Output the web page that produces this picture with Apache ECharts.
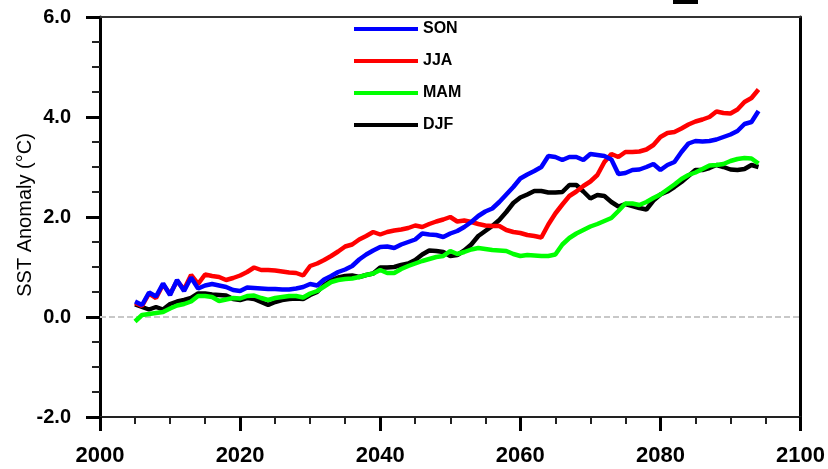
<!DOCTYPE html>
<html>
<head>
<meta charset="utf-8">
<script src="https://cdn.jsdelivr.net/npm/echarts@6/dist/echarts.min.js"></script>
<style>
html,body{margin:0;padding:0;background:#fff;}
#chart{width:828px;height:469px;}
</style>
</head>
<body>
<div id="chart"></div>
<script>
const years = [];
for (let y = 2005; y <= 2094; y++) years.push(y);

const SON = [0.31,0.24,0.49,0.41,0.67,0.44,0.74,0.52,0.79,0.57,
0.63,0.66,0.63,0.60,0.54,0.52,0.59,0.58,0.57,0.56,
0.56,0.55,0.55,0.57,0.60,0.66,0.63,0.75,0.82,0.90,
0.95,1.02,1.15,1.25,1.33,1.40,1.41,1.38,1.45,1.50,
1.55,1.67,1.65,1.64,1.60,1.67,1.72,1.80,1.90,2.02,
2.11,2.17,2.30,2.45,2.60,2.77,2.85,2.92,3.00,3.22,
3.20,3.14,3.20,3.20,3.14,3.26,3.24,3.22,3.15,2.86,
2.88,2.94,2.95,3.00,3.06,2.94,3.04,3.10,3.30,3.47,
3.52,3.51,3.52,3.55,3.60,3.65,3.72,3.86,3.90,4.12];

const JJA = [0.28,0.22,0.47,0.38,0.65,0.46,0.72,0.55,0.84,0.66,
0.85,0.82,0.80,0.74,0.78,0.83,0.90,0.99,0.94,0.94,
0.93,0.91,0.89,0.88,0.83,1.02,1.07,1.14,1.22,1.31,
1.41,1.45,1.55,1.62,1.70,1.65,1.70,1.73,1.75,1.78,
1.83,1.80,1.86,1.91,1.95,2.00,1.91,1.93,1.90,1.86,
1.83,1.82,1.82,1.74,1.70,1.68,1.64,1.62,1.59,1.85,
2.07,2.25,2.42,2.51,2.62,2.71,2.84,3.10,3.26,3.20,
3.30,3.30,3.31,3.35,3.44,3.60,3.68,3.70,3.77,3.85,
3.91,3.95,4.00,4.11,4.08,4.07,4.15,4.30,4.38,4.55];

const MAM = [-0.09,0.04,0.06,0.08,0.10,0.17,0.23,0.26,0.31,0.42,
0.42,0.40,0.32,0.35,0.38,0.37,0.42,0.43,0.38,0.34,
0.38,0.40,0.42,0.42,0.39,0.47,0.52,0.61,0.70,0.74,
0.76,0.77,0.80,0.84,0.87,0.94,0.88,0.88,0.96,1.02,
1.07,1.12,1.16,1.20,1.22,1.32,1.26,1.30,1.35,1.38,
1.36,1.34,1.33,1.32,1.26,1.22,1.24,1.23,1.22,1.22,
1.25,1.45,1.58,1.67,1.74,1.81,1.86,1.92,1.98,2.12,
2.27,2.27,2.24,2.30,2.38,2.45,2.55,2.65,2.76,2.84,
2.89,2.96,3.03,3.04,3.06,3.12,3.16,3.18,3.17,3.07];

const DJF = [0.25,0.20,0.15,0.20,0.15,0.26,0.31,0.34,0.38,0.47,
0.47,0.45,0.44,0.43,0.36,0.34,0.38,0.36,0.30,0.24,
0.30,0.34,0.36,0.37,0.36,0.44,0.50,0.64,0.74,0.79,
0.82,0.83,0.80,0.84,0.87,0.99,0.99,1.00,1.04,1.07,
1.14,1.25,1.33,1.32,1.30,1.22,1.24,1.33,1.45,1.62,
1.72,1.82,1.94,2.10,2.28,2.39,2.45,2.52,2.52,2.49,
2.49,2.50,2.64,2.64,2.51,2.37,2.44,2.42,2.30,2.21,
2.26,2.22,2.18,2.15,2.33,2.45,2.51,2.60,2.70,2.82,
2.94,2.94,2.98,3.04,3.00,2.95,2.94,2.96,3.04,3.00];

const legendNames = ['SON','JJA','MAM','DJF'];
const yTitle = 'SST Anomaly (°C)';

const FONT = 'Liberation Sans, Arial, Helvetica, sans-serif';
function pairs(arr){ return arr.map((v,i)=>[years[i], v]); }

const chart = echarts.init(document.getElementById('chart'), null, {renderer:'canvas'});
const lineBase = (name, color, data, extra) => Object.assign({
  name, type:'line', data: pairs(data), showSymbol:false, symbol:'none',
  lineStyle:{width:4.5, color}, itemStyle:{color}, animation:false, z:3
}, extra||{});

chart.setOption({
  animation:false,
  backgroundColor:'#fff',
  textStyle:{fontFamily:FONT},
  grid:{left:100, right:27, top:17, bottom:52, containLabel:false},
  legend:{
    data: legendNames, orient:'vertical', left:354, top:20, padding:0,
    icon:'rect', itemWidth:64, itemHeight:4, itemGap:14,
    textStyle:{fontFamily:FONT, fontWeight:'bold', fontSize:16, lineHeight:18, color:'#000'},
    selectedMode:false
  },
  xAxis:[{
    type:'value', min:2000, max:2100, interval:20,
    axisLine:{show:true, onZero:false, lineStyle:{color:'#222', width:2}},
    axisTick:{show:true, inside:false, length:14, lineStyle:{color:'#000', width:3}},
    minorTick:{show:true, splitNumber:4, length:7, lineStyle:{color:'#222', width:2}},
    splitLine:{show:false},
    axisLabel:{margin:28, fontFamily:FONT, fontWeight:'bold', fontSize:22, color:'#000',
      formatter:(v)=>String(v)}
  },{
    type:'value', min:2000, max:2100, position:'top',
    axisLine:{show:true, onZero:false, lineStyle:{color:'#333', width:2}},
    axisTick:{show:false}, axisLabel:{show:false}, splitLine:{show:false}
  }],
  yAxis:[{
    type:'value', min:-2, max:6, interval:2,
    axisLine:{show:true, onZero:false, lineStyle:{color:'#000', width:3}},
    axisTick:{show:true, inside:false, length:14, lineStyle:{color:'#000', width:3}},
    minorTick:{show:true, splitNumber:4, length:8, lineStyle:{color:'#222', width:2}},
    splitLine:{show:false},
    axisLabel:{margin:29, fontFamily:FONT, fontWeight:'bold', fontSize:20, color:'#000',
      formatter:(v)=>v.toFixed(1)}
  },{
    type:'value', min:-2, max:6, position:'right',
    axisLine:{show:true, onZero:false, lineStyle:{color:'#000', width:3}},
    axisTick:{show:false}, axisLabel:{show:false}, splitLine:{show:false}
  }],
  graphic:[
    {type:'rect', shape:{x:673, y:0, width:25, height:4}, style:{fill:'#000'}},
    {type:'text', x:25, y:215, rotation:Math.PI/2,
      style:{text:yTitle, fill:'#000', font:'20px ' + FONT, align:'center', verticalAlign:'middle'}}
  ],
  series:[
    lineBase('DJF', '#000000', DJF, {
      markLine:{silent:true, symbol:'none', label:{show:false},
        lineStyle:{type:[6,3], color:'#c8c8c8', width:2}, data:[{yAxis:0}], z:1}
    }),
    lineBase('MAM', '#00ff00', MAM),
    lineBase('JJA', '#ff0000', JJA),
    lineBase('SON', '#0000ff', SON)
  ]
});
</script>
</body>
</html>
